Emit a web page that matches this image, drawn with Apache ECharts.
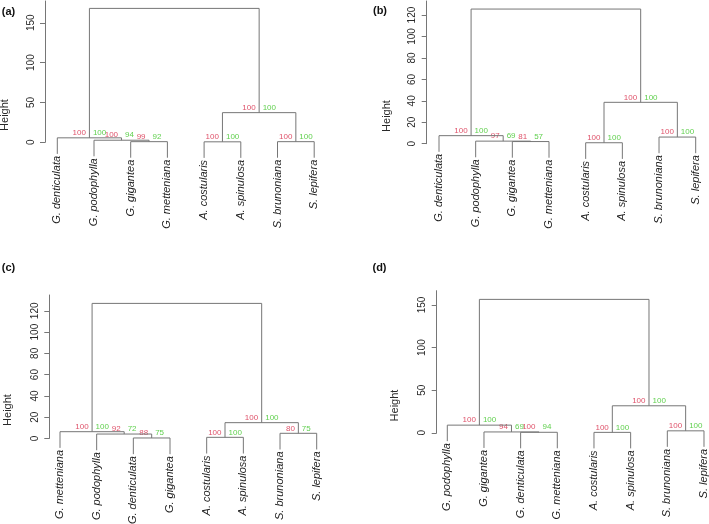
<!DOCTYPE html>
<html><head><meta charset="utf-8">
<script src="https://cdn.jsdelivr.net/npm/echarts@6/dist/echarts.min.js"></script>
<style>html,body{margin:0;padding:0;background:#fff}#c{width:709px;height:524px}</style>
</head><body><div id="c"></div>
<script>
// ---------- data ----------
const leavesA = ['G. denticulata','G. podophylla','G. gigantea','G. metteniana','A. costularis','A. spinulosa','S. brunoniana','S. lepifera'];
const leavesB = ['G. denticulata','G. podophylla','G. gigantea','G. metteniana','A. costularis','A. spinulosa','S. brunoniana','S. lepifera'];
const leavesC = ['G. metteniana','G. podophylla','G. denticulata','G. gigantea','A. costularis','A. spinulosa','S. brunoniana','S. lepifera'];
const leavesD = ['G. podophylla','G. gigantea','G. denticulata','G. metteniana','A. costularis','A. spinulosa','S. brunoniana','S. lepifera'];

// merge matrix (R hclust style): negative = leaf (1-based), positive = earlier merge (1-based)
const mergeA = [[-3,-4],[-2,1],[-1,2],[-5,-6],[-7,-8],[4,5],[3,6]];
const mergeB = [[-3,-4],[-2,1],[-1,2],[-5,-6],[-7,-8],[4,5],[3,6]];
const mergeC = [[-3,-4],[-2,1],[-1,2],[-5,-6],[-7,-8],[4,5],[3,6]];
const mergeD = [[-3,-4],[-2,1],[-1,2],[-5,-6],[-7,-8],[4,5],[3,6]];

const heightA = [0.8, 2.6, 5.6, 0.6, 0.8, 37.2, 168];
const heightB = [2.0, 2.4, 7.5, 0.9, 6.2, 38.6, 125.6];
const heightC = [0.4, 4.1, 6.3, 1.0, 4.8, 14.8, 127];
const heightD = [0.6, 1.0, 9.0, 0.5, 2.3, 31.7, 156.6];

const auA = [99, 100, 100, 100, 100, 100, null];
const bpA = [92, 94, 100, 100, 100, 100, null];
const auB = [81, 97, 100, 100, 100, 100, null];
const bpB = [57, 69, 100, 100, 100, 100, null];
const auC = [88, 92, 100, 100, 80, 100, null];
const bpC = [75, 72, 100, 100, 75, 100, null];
const auD = [100, 94, 100, 100, 100, 100, null];
const bpD = [94, 69, 100, 100, 100, 100, null];

const ticksA = [0, 50, 100, 150];
const ticksB = [0, 20, 40, 60, 80, 100, 120];
const ticksC = [0, 20, 40, 60, 80, 100, 120];
const ticksD = [0, 50, 100, 150];

const tags = ['(a)', '(b)', '(c)', '(d)'];
const yName = 'Height';

// ---------- layout (pixels) ----------
const layouts = [
  {axisX:45,    leaf1X:57.3,  step:36.7,  zeroY:142.3, ppu:0.797, topY:1,     tagX:8.5,   tagY:12,  ylabX:5,     ylabY:115},
  {axisX:426.7, leaf1X:439,   step:36.67, zeroY:143.7, ppu:1.072, topY:1,     tagX:380,   tagY:11,  ylabX:386.5, ylabY:116},
  {axisX:49.3,  leaf1X:60,    step:36.67, zeroY:438.4, ppu:1.063, topY:295,   tagX:8.5,   tagY:268, ylabX:7.5,   ylabY:410},
  {axisX:436.7, leaf1X:447.3, step:36.67, zeroY:432.8, ppu:0.852, topY:290.7, tagX:379.5, tagY:268, ylabX:395,   ylabY:405.5}
];
const HANG = 0.12;
const LINE = '#767676';
const FONT = '"Liberation Sans", Arial, Helvetica, sans-serif';
const RED = '#DF536B', GREEN = '#61D04F';

const panels = [
  {leaves:leavesA, merge:mergeA, height:heightA, au:auA, bp:bpA, ticks:ticksA},
  {leaves:leavesB, merge:mergeB, height:heightB, au:auB, bp:bpB, ticks:ticksB},
  {leaves:leavesC, merge:mergeC, height:heightC, au:auC, bp:bpC, ticks:ticksC},
  {leaves:leavesD, merge:mergeD, height:heightD, au:auD, bp:bpD, ticks:ticksD}
];

function buildTree(p) {
  const n = p.merge.length;
  const root = p.height[n - 1];
  const hang = HANG * root;
  const mx = [], leafEnd = [];
  for (let k = 0; k < n; k++) {
    const xs = p.merge[k].map(c => {
      if (c < 0) { leafEnd[-c - 1] = p.height[k] - hang; return -c; }
      return mx[c - 1];
    });
    mx[k] = (xs[0] + xs[1]) / 2;
  }
  return {mx, leafEnd};
}

const grids = [], xAxes = [], yAxes = [], series = [], graphics = [];
panels.forEach((p, i) => {
  const L = layouts[i];
  const t = buildTree(p);
  const xmin = 1 - (L.leaf1X - L.axisX) / L.step;
  const xmax = 8.5;
  grids.push({left: L.axisX, top: L.topY, width: (xmax - xmin) * L.step, height: L.zeroY - L.topY,
              containLabel: false, outerBoundsMode: 'none'});
  xAxes.push({type: 'value', gridIndex: i, min: xmin, max: xmax, show: false});
  yAxes.push({
    type: 'value', gridIndex: i, min: 0, max: (L.zeroY - L.topY) / L.ppu,
    axisLine: {show: true, lineStyle: {color: LINE, width: 1}},
    axisTick: {show: true, customValues: p.ticks, length: 5, lineStyle: {color: LINE, width: 1}},
    axisLabel: {show: true, customValues: p.ticks, rotate: 90, fontSize: 10, color: '#2a2a2a',
                fontFamily: FONT, margin: 9},
    splitLine: {show: false}
  });
  // tree brackets + AU/BP
  series.push({
    type: 'custom', xAxisIndex: i, yAxisIndex: i, clip: false, silent: true,
    data: p.merge.map((m, k) => [t.mx[k], p.height[k], k]),
    renderItem: function (params, api) {
      const k = api.value(2);
      const h = p.height[k];
      const ends = p.merge[k].map(c => c < 0 ? [-c, t.leafEnd[-c - 1]] : [t.mx[c - 1], p.height[c - 1]]);
      const a = api.coord(ends[0]), a2 = api.coord([ends[0][0], h]);
      const b2 = api.coord([ends[1][0], h]), b = api.coord(ends[1]);
      const c = api.coord([t.mx[k], h]);
      const children = [{
        type: 'polyline', shape: {points: [a, a2, b2, b]},
        style: {stroke: LINE, lineWidth: 1, fill: null}
      }];
      if (p.au[k] != null) {
        children.push({type: 'text', x: c[0] - 3.5, y: c[1] - 5,
          style: {text: String(p.au[k]), fill: RED, font: '8px ' + FONT, align: 'right', verticalAlign: 'middle'}});
        children.push({type: 'text', x: c[0] + 3.5, y: c[1] - 5,
          style: {text: String(p.bp[k]), fill: GREEN, font: '8px ' + FONT, align: 'left', verticalAlign: 'middle'}});
      }
      return {type: 'group', children: children};
    }
  });
  // leaf labels
  series.push({
    type: 'custom', xAxisIndex: i, yAxisIndex: i, clip: false, silent: true,
    data: p.leaves.map((name, j) => [j + 1, t.leafEnd[j], j]),
    renderItem: function (params, api) {
      const j = api.value(2);
      const pt = api.coord([api.value(0), api.value(1)]);
      return {type: 'text', x: pt[0], y: pt[1] + 2, rotation: Math.PI / 2,
        style: {text: p.leaves[j], fill: '#1e1e1e', font: 'italic 11px ' + FONT, align: 'right', verticalAlign: 'middle'}};
    }
  });
  graphics.push({type: 'text', x: L.tagX, y: L.tagY,
    style: {text: tags[i], fill: '#111', font: 'bold 11px ' + FONT, align: 'center', verticalAlign: 'middle'}});
  graphics.push({type: 'text', x: L.ylabX, y: L.ylabY, rotation: Math.PI / 2,
    style: {text: yName, fill: '#2a2a2a', font: '11px ' + FONT, align: 'center', verticalAlign: 'middle'}});
});

const chart = echarts.init(document.getElementById('c'), null, {renderer: 'canvas'});
chart.setOption({
  animation: false,
  backgroundColor: '#fff',
  grid: grids, xAxis: xAxes, yAxis: yAxes, series: series, graphic: graphics
});
</script></body></html>
